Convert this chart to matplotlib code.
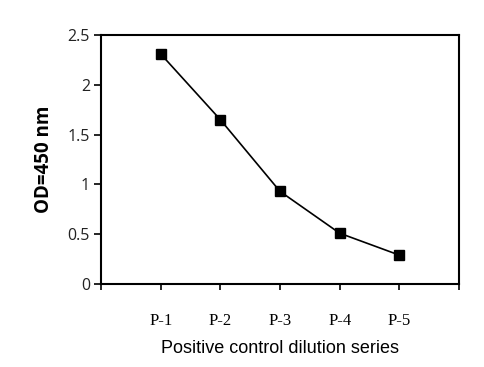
import matplotlib
matplotlib.use("Agg")
import matplotlib.pyplot as plt

categories = ["P-1", "P-2", "P-3", "P-4", "P-5"]
od_values = [2.31, 1.65, 0.93, 0.51, 0.29]
y_ticks = [0, 0.5, 1, 1.5, 2, 2.5]
y_tick_labels = ["0", "0.5", "1", "1.5", "2", "2.5"]

fig = plt.figure(figsize=(4.84, 3.67), dpi=100)
ax = fig.add_axes([101/484, 1-284/367, (459-101)/484, (284-35)/367])

x = list(range(1, len(categories) + 1))
ax.plot(x, od_values, color="black", lw=1.2, marker="s", markersize=6.5,
        markerfacecolor="black", markeredgecolor="black")

ax.set_xlim(0, 6)
ax.set_ylim(0, 2.5)
ax.set_xticks([0] + x + [6])
ax.set_xticklabels([""] + categories + [""], fontfamily="Liberation Serif", fontsize=12)
ax.set_yticks(y_ticks)
ax.set_yticklabels(y_tick_labels, fontfamily="Open Sans", fontsize=11.5, color="#222222")
ax.tick_params(axis="x", direction="out", length=4, width=1.2, pad=17)
ax.tick_params(axis="y", direction="out", length=5, width=1.2, pad=3)
for s in ax.spines.values():
    s.set_linewidth(1.5)

ax.set_xlabel("Positive control dilution series", fontfamily="Liberation Sans", fontsize=13, labelpad=8)
ax.set_ylabel("OD=450 nm", fontfamily="Open Sans", fontweight="bold", fontsize=13.5, labelpad=10)

fig.savefig("out.png", dpi=100)
